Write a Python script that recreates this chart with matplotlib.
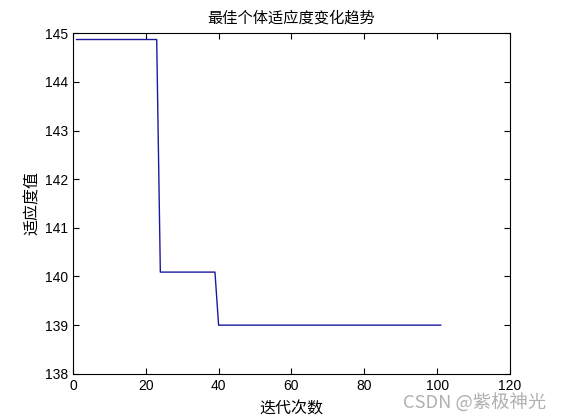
import matplotlib
matplotlib.use("Agg")
import matplotlib.pyplot as plt

plt.rcParams['font.family'] = ['Liberation Sans', 'Noto Sans CJK SC', 'DejaVu Sans']

# step-change points of best fitness per iteration
iterations = [1, 23, 24, 39, 40, 101]
fitness = [144.87, 144.87, 140.09, 140.09, 139.0, 139.0]
xticks = [0, 20, 40, 60, 80, 100, 120]
yticks = [138, 139, 140, 141, 142, 143, 144, 145]

CJK = ['Noto Sans CJK SC', 'DejaVu Sans']

fig = plt.figure(figsize=(5.61, 4.2), dpi=100)
ax = fig.add_axes([0.130, 0.110, 0.779, 0.811])
ax.plot(iterations, fitness, color='#1a1aa0', linewidth=1.0)
ax.set_xlim(0, 120)
ax.set_ylim(138, 145)
ax.set_xticks(xticks)
ax.set_yticks(yticks)
ax.tick_params(direction='in', top=True, right=True, labelsize=10, length=4, width=0.8)
for s in ax.spines.values():
    s.set_linewidth(0.8)
ax.set_title('最佳个体适应度变化趋势', fontsize=11, family=CJK, pad=8)
ax.set_xlabel('迭代次数', fontsize=11.5, family=CJK, labelpad=6)
ax.set_ylabel('适应度值', fontsize=11.5, family=CJK, labelpad=3)
fig.text(546/561, 11/420, 'CSDN @紫极神光', ha='right', va='baseline', fontsize=13.2, color='#b0b0b0',
         family=CJK)
fig.savefig('out.png', dpi=100)
